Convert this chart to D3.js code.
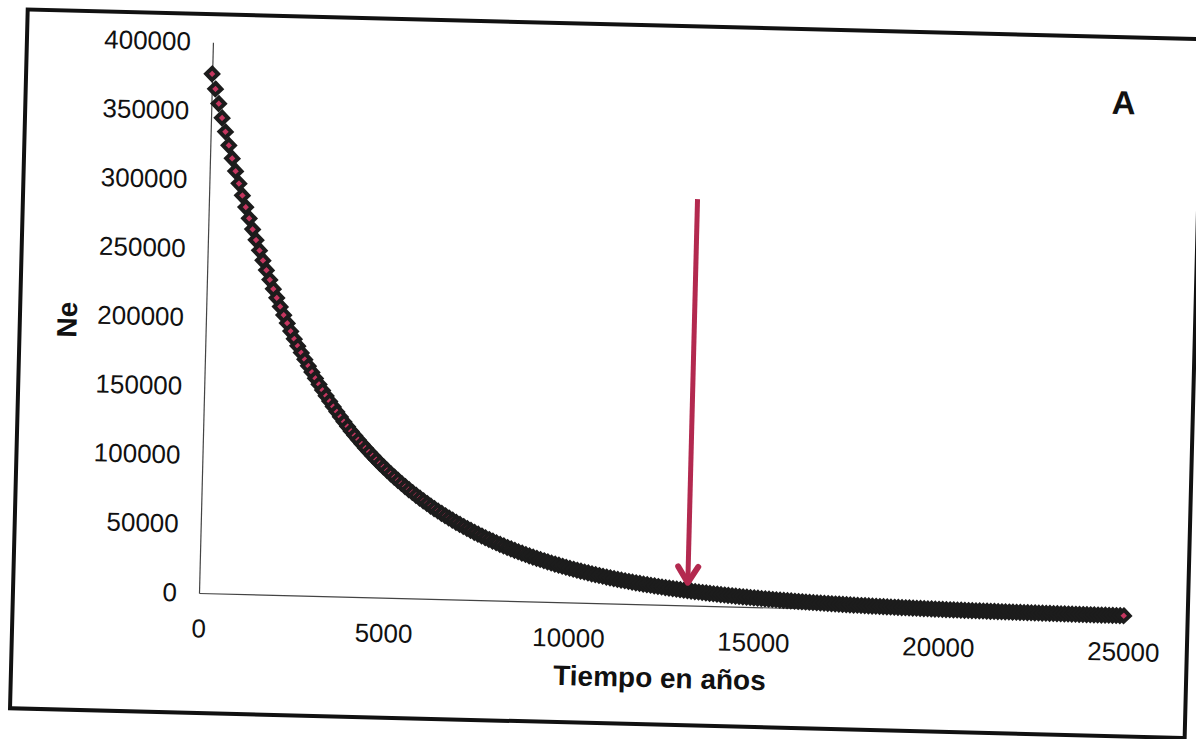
<!DOCTYPE html>
<html>
<head>
<meta charset="utf-8">
<script src="https://cdn.jsdelivr.net/npm/d3@7"></script>
<style>
  html, body { margin: 0; padding: 0; background: #fff; }
  svg { display: block; }
</style>
</head>
<body>
<svg id="chart" width="1196" height="739"></svg>
<script>
// Effective population size (Ne), one value every 100 years from 0 to 25000
const yearStep = 100;
const ne = [
  // 0 – 2400
  377000, 366100, 355500, 345200, 335200, 325400, 316000, 306800, 297900, 289300,
  280900, 272800, 264900, 257200, 249700, 242500, 235500, 228600, 222000, 215600,
  209300, 203200, 197400, 191600, 186100,
  // 2500 – 4000
  181100, 176200, 171400, 166800, 162300, 157900, 153600, 149400, 145400, 141500,
  137700, 134000, 130400, 126900, 123500, 120200,
  // 4100 – 15000
  117100, 114100, 111100, 108200, 105400, 102700, 100000, 97400, 94870, 92400,
  90000, 87660, 85380, 83160, 81000, 78890, 76840, 74840, 72890, 71000,
  69150, 67350, 65600, 63890, 62230, 60610, 59030, 57500, 56000, 54540,
  53120, 51740, 50390, 49080, 47800, 46560, 45350, 44170, 43020, 41900,
  40810, 39750, 38720, 37710, 36730, 35780, 34850, 33940, 33060, 32200,
  31360, 30550, 29760, 28990, 28240, 27510, 26800, 26100, 25420, 24760,
  24120, 23490, 22880, 22290, 21710, 21150, 20600, 20060, 19540, 19030,
  18540, 18060, 17590, 17130, 16690, 16260, 15840, 15430, 15030, 14640,
  14260, 13890, 13530, 13180, 12840, 12510, 12190, 11870, 11560, 11260,
  10970, 10690, 10410, 10140, 9880, 9620, 9370, 9130, 8890, 8660,
  8440, 8220, 8010, 7800, 7600, 7400, 7210, 7020, 6840, 6660,
  // 15100 – 25000
  6490, 6320, 6160, 6000, 5840, 5690, 5540, 5400, 5260, 5120,
  4990, 4860, 4730, 4610, 4490, 4370, 4260, 4150, 4040, 3940,
  3840, 3740, 3640, 3550, 3460, 3370, 3280, 3200, 3120, 3040,
  2960, 2880, 2810, 2740, 2670, 2600, 2530, 2460, 2400, 2340,
  2280, 2220, 2160, 2100, 2050, 2000, 1950, 1900, 1850, 1800,
  1750, 1700, 1660, 1620, 1580, 1540, 1500, 1460, 1420, 1380,
  1340, 1310, 1280, 1250, 1220, 1190, 1160, 1130, 1100, 1070,
  1040, 1010, 980, 960, 930, 910, 890, 870, 850, 830,
  810, 790, 770, 750, 730, 710, 690, 670, 650, 630,
  610, 590, 580, 560, 550, 540, 530, 520, 510, 500
];

const xTicks = [0, 5000, 10000, 15000, 20000, 25000];
const yTicks = [0, 50000, 100000, 150000, 200000, 250000, 300000, 350000, 400000];
const xDomain = [0, 25000];
const yDomain = [0, 400000];

const xTitle = "Tiempo en años";
const yTitle = "Ne";
const panelLabel = "A";

// Arrow marking the point of interest on the curve
const arrowYear = 13200;
const arrowFrom = 295000;
const arrowTo = 15000;

const years = ne.map((_, i) => i * yearStep);

// ---- layout ----
const W = 925, H = 551;          // plot size in the chart's own frame
const origin = [199, 593];       // where the axes meet on the page
const tilt = 1.45;               // the printed sheet sits slightly askew
const font = "'Liberation Sans', Arial, Helvetica, sans-serif";

const svg = d3.select("#chart");
svg.append("rect").attr("width", 1196).attr("height", 739).attr("fill", "#fff");

const g = svg.append("g")
  .attr("transform", `translate(${origin[0]},${origin[1]}) rotate(${tilt})`);

const x = d3.scaleLinear().domain(xDomain).range([0, W]);
const y = d3.scaleLinear().domain(yDomain).range([0, -H]);

// outer frame
g.append("rect")
  .attr("x", -186).attr("y", -579)
  .attr("width", 1175).attr("height", 699)
  .attr("fill", "none")
  .attr("stroke", "#111")
  .attr("stroke-width", 4);

// axes
const xAxis = g.append("g")
  .call(d3.axisBottom(x).tickValues(xTicks).tickSize(0).tickSizeOuter(0)
    .tickPadding(26).tickFormat(d3.format("d")));
const yAxis = g.append("g")
  .call(d3.axisLeft(y).tickValues(yTicks).tickSize(0).tickSizeOuter(0)
    .tickPadding(22).tickFormat(d3.format("d")));

[xAxis, yAxis].forEach(a => {
  a.attr("font-family", font).attr("font-size", 26);
  a.select(".domain").attr("stroke", "#444").attr("stroke-width", 1.2);
  a.selectAll("text").attr("fill", "#111");
});

// axis titles
g.append("text")
  .attr("x", x(12500)).attr("y", 73)
  .attr("dy", "0.35em")
  .attr("text-anchor", "middle")
  .attr("font-family", font).attr("font-size", 28).attr("font-weight", "bold")
  .attr("fill", "#111")
  .text(xTitle);

g.append("text")
  .attr("transform", `translate(-139,${y(196000)}) rotate(-90)`)
  .attr("dy", "0.35em")
  .attr("text-anchor", "middle")
  .attr("font-family", font).attr("font-size", 28).attr("font-weight", "bold")
  .attr("fill", "#111")
  .text(yTitle);

// panel letter
g.append("text")
  .attr("x", x(24650)).attr("y", y(373000))
  .attr("dy", "0.35em")
  .attr("text-anchor", "middle")
  .attr("font-family", font).attr("font-size", 33).attr("font-weight", "bold")
  .attr("fill", "#111")
  .text(panelLabel);

// diamond markers
const diamond = {
  draw(ctx, size) {
    const r = Math.sqrt(size / 2);
    ctx.moveTo(0, -r); ctx.lineTo(r, 0); ctx.lineTo(0, r); ctx.lineTo(-r, 0); ctx.closePath();
  }
};
const marker = d3.symbol().type(diamond).size(72);

g.append("g")
  .selectAll("path")
  .data(ne)
  .join("path")
  .attr("transform", (d, i) => `translate(${x(years[i])},${y(d)})`)
  .attr("d", marker)
  .attr("fill", "#c4365f")
  .attr("stroke", "#1c1c1c")
  .attr("stroke-width", 4)
  .attr("stroke-linejoin", "miter");

// arrow
const ax = x(arrowYear), ay0 = y(arrowFrom), ay1 = y(arrowTo);
const arrowColor = "#b3294f";
g.append("line")
  .attr("x1", ax).attr("y1", ay0)
  .attr("x2", ax).attr("y2", ay1 - 3)
  .attr("stroke", arrowColor).attr("stroke-width", 5);
g.append("path")
  .attr("d", `M${ax - 10},${ay1 - 18} L${ax},${ay1 - 2} L${ax + 10},${ay1 - 18}`)
  .attr("fill", "none")
  .attr("stroke", arrowColor).attr("stroke-width", 6)
  .attr("stroke-linecap", "round").attr("stroke-linejoin", "round");
</script>
</body>
</html>
